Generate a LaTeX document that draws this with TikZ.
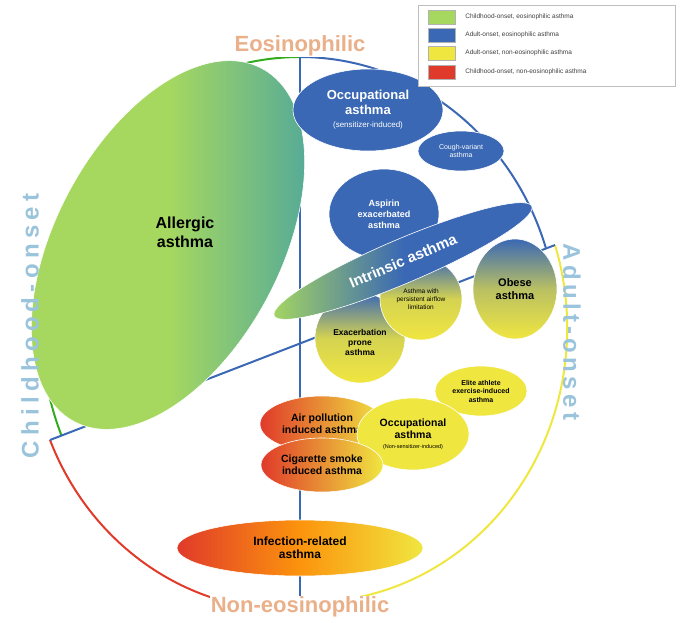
\documentclass[tikz,border=0pt]{standalone}
\usepackage{fontspec}
\setsansfont{Liberation Sans}
\usepackage{tikz}
\usetikzlibrary{shapes.geometric}
\definecolor{cgreen}{HTML}{A6D860}
\definecolor{cblue}{HTML}{3A68B4}
\definecolor{cyellow}{HTML}{F0E640}
\definecolor{cred}{HTML}{E03A2A}
\definecolor{cteal}{HTML}{4FA79C}
\definecolor{corange}{HTML}{E9B08A}
\definecolor{clight}{HTML}{9AC3DC}

\begin{document}
\begin{tikzpicture}[x=1pt,y=-1pt,font=\sffamily\bfseries,
                    semithick]
  \tikzstyle{blob}=[ellipse,draw=white,line width=0.6pt,inner sep=0pt,align=center]
  \tikzstyle{axis}=[line width=2pt]
  \tikzstyle{side}=[font=\sffamily\bfseries\fontsize{22}{22}\selectfont]
  \tikzstyle{swatch}=[draw=gray!60,minimum width=27,minimum height=14,inner sep=0pt]
  \tikzstyle{key}=[font=\sffamily\fontsize{6.5}{8}\selectfont,text=black!75,anchor=west]

  \useasboundingbox (0,0) rectangle (685,622);

  % circle quadrants
  \coordinate (T) at (300,57);
  \coordinate (B) at (300,605);
  \coordinate (L) at (50,440);
  \coordinate (R) at (555,245);
  \draw[axis,green!60!black!70!cgreen] (T) arc[start angle=-90,end angle=-202.3,x radius=258,y radius=274];
  \draw[axis,cred] (L) arc[start angle=157.7,end angle=90,x radius=258,y radius=274];
  \draw[axis,cblue] (T) arc[start angle=-90,end angle=-17.7,x radius=258,y radius=274];
  \draw[axis,cyellow] (R) arc[start angle=-17.7,end angle=90,x radius=258,y radius=274];
  \draw[axis,cblue] (T) -- (B);
  \draw[axis,cblue] (L) -- (R);

  % phenotypes
  \node[blob,rotate=62,minimum width=400,minimum height=225,left color=cgreen,right color=cteal,
        middle color=cgreen] (allergic) at (168,245) {};
  \node[align=center,font=\sffamily\bfseries\fontsize{16}{19}\selectfont] (allergicTxt) at (185,232) {Allergic\\asthma};
  \node[blob,fill=cblue,text=white,minimum width=150,minimum height=82,
        font=\sffamily\bfseries\fontsize{13}{15}\selectfont] (occS) at (368,110)
        {Occupational\\asthma\\[-2pt]{\fontsize{8}{9}\selectfont\mdseries (sensitizer-induced)}};
  \node[blob,fill=cblue,text=white,minimum width=86,minimum height=40,
        font=\sffamily\fontsize{7}{8}\selectfont] (cough) at (461,151) {Cough-variant\\asthma};
  \node[blob,fill=cblue,text=white,minimum width=110,minimum height=90,
        font=\sffamily\bfseries\fontsize{9}{11}\selectfont] (aspirin) at (384,214)
        {Aspirin\\exacerbated\\asthma};
  \node[blob,top color=cblue,bottom color=cyellow,middle color=cyellow!85!cblue,minimum width=90,minimum height=90,
        font=\sffamily\bfseries\fontsize{8.5}{10}\selectfont] (exac) at (360,338)
        {\\[6pt]Exacerbation\\prone\\asthma};
  \node[blob,top color=cblue,bottom color=cyellow,middle color=cyellow!85!cblue,minimum width=82,minimum height=82,
        font=\sffamily\fontsize{6.5}{8}\selectfont] (persist) at (421,299)
        {Asthma with\\persistent airflow\\limitation};
  \node[blob,rotate=23,left color=cgreen,right color=cblue,middle color=cblue,minimum width=280,minimum height=44,
        text=white,font=\sffamily\bfseries\fontsize{15}{17}\selectfont] (intrinsic) at (403,261) {Intrinsic asthma};
  \node[blob,top color=cblue,bottom color=cyellow,middle color=cyellow!70!cblue,minimum width=84,minimum height=100,
        font=\sffamily\bfseries\fontsize{11}{13}\selectfont] (obese) at (515,289) {Obese\\asthma};
  \node[blob,fill=cyellow,minimum width=92,minimum height=50,
        font=\sffamily\bfseries\fontsize{7}{8.5}\selectfont] (elite) at (481,391)
        {Elite athlete\\exercise-induced\\asthma};
  \node[blob,left color=cred,right color=cyellow,minimum width=124,minimum height=56,
        font=\sffamily\bfseries\fontsize{10.5}{12}\selectfont] (air) at (322,424)
        {Air pollution\\induced asthma};
  \node[blob,fill=cyellow,minimum width=112,minimum height=72,
        font=\sffamily\bfseries\fontsize{10.5}{12}\selectfont] (occN) at (413,434)
        {Occupational\\asthma\\[-2pt]{\fontsize{5.5}{6}\selectfont\mdseries (Non-sensitizer-induced)}};
  \node[blob,left color=cred,right color=cyellow,minimum width=122,minimum height=54,
        font=\sffamily\bfseries\fontsize{10.5}{12}\selectfont] (smoke) at (322,465)
        {Cigarette smoke\\induced asthma};
  \node[blob,left color=cred,right color=cyellow,middle color=orange!80!cyellow,minimum width=246,minimum height=56,
        font=\sffamily\bfseries\fontsize{12}{13}\selectfont] (infect) at (300,548)
        {Infection-related\\asthma};

  % side labels
  \node[side,text=corange,fill=white,inner sep=1pt] (eos) at (300,46) {Eosinophilic};
  \node[side,text=corange,fill=white,inner sep=1pt] (neos) at (300,607) {Non-eosinophilic};
  \node[side,text=clight,rotate=90,font=\sffamily\bfseries\fontsize{24}{24}\selectfont\addfontfeature{LetterSpace=22}]
        (child) at (30,326) {Childhood-onset};
  \node[side,text=clight,rotate=-90,font=\sffamily\bfseries\fontsize{24}{24}\selectfont\addfontfeature{LetterSpace=18}]
        (adult) at (572,332) {Adult-onset};

  % legend
  \draw[gray!50,fill=white] (418,5) rectangle (675,86);
  \node[swatch,fill=cgreen] (g) at (442,17) {};
  \node[swatch,fill=cblue] (b) at (442,35) {};
  \node[swatch,fill=cyellow] (y) at (442,53) {};
  \node[swatch,fill=cred] (r) at (442,72) {};
  \node[key] at ([xshift=6pt]g.east) {Childhood-onset, eosinophilic asthma};
  \node[key] at ([xshift=6pt]b.east) {Adult-onset, eosinophilic asthma};
  \node[key] at ([xshift=6pt]y.east) {Adult-onset, non-eosinophilic asthma};
  \node[key] at ([xshift=6pt]r.east) {Childhood-onset, non-eosinophilic asthma};
\end{tikzpicture}
\end{document}
